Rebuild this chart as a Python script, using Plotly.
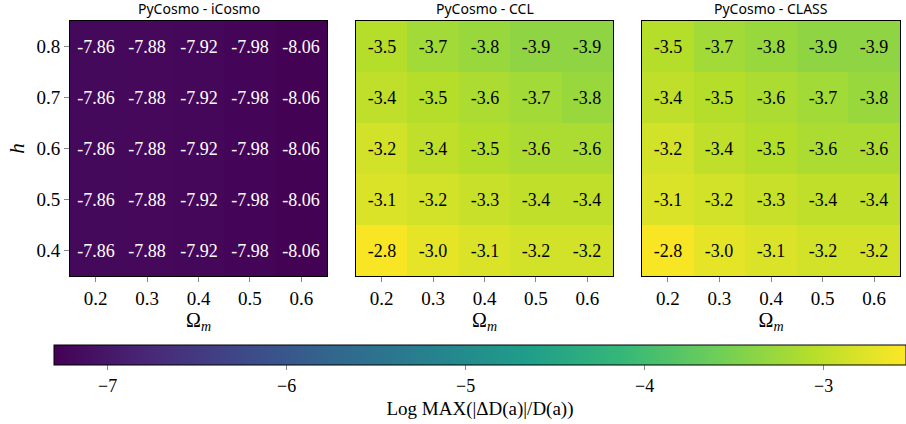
import plotly.graph_objects as go

omega_m = [0.2, 0.3, 0.4, 0.5, 0.6]
h_vals = [0.4, 0.5, 0.6, 0.7, 0.8]

icosmo = [
    [-7.86, -7.88, -7.92, -7.98, -8.06],
    [-7.86, -7.88, -7.92, -7.98, -8.06],
    [-7.86, -7.88, -7.92, -7.98, -8.06],
    [-7.86, -7.88, -7.92, -7.98, -8.06],
    [-7.86, -7.88, -7.92, -7.98, -8.06],
]
ccl = [
    [-2.8, -3.0, -3.1, -3.2, -3.2],
    [-3.1, -3.2, -3.3, -3.4, -3.4],
    [-3.2, -3.4, -3.5, -3.6, -3.6],
    [-3.4, -3.5, -3.6, -3.7, -3.8],
    [-3.5, -3.7, -3.8, -3.9, -3.9],
]
class_ = [
    [-2.8, -3.0, -3.1, -3.2, -3.2],
    [-3.1, -3.2, -3.3, -3.4, -3.4],
    [-3.2, -3.4, -3.5, -3.6, -3.6],
    [-3.4, -3.5, -3.6, -3.7, -3.8],
    [-3.5, -3.7, -3.8, -3.9, -3.9],
]
titles = ["PyCosmo - iCosmo", "PyCosmo - CCL", "PyCosmo - CLASS"]
cbar_ticks = [-7, -6, -5, -4, -3]

W, H = 906, 424
serif = "Liberation Serif"
ranges = [(-8.08, 2.0), (-9.5, -2.75), (-9.5, -2.75)]
cb_min, cb_max = -7.3, -2.54

fig = go.Figure()

xdoms = [(70 / W, 327 / W), (356 / W, 613 / W), (642 / W, 900 / W)]
ydom = (1 - 276 / H, 1 - 21 / H)

datasets = [(icosmo, "%{z:.2f}", "white"), (ccl, "%{z:.1f}", "black"), (class_, "%{z:.1f}", "black")]

for i, (z, fmt, tcol) in enumerate(datasets):
    sfx = "" if i == 0 else str(i + 1)
    fig.add_trace(go.Heatmap(
        x=omega_m, y=h_vals, z=z,
        colorscale="Viridis", zmin=ranges[i][0], zmax=ranges[i][1], showscale=False,
        texttemplate=fmt,
        textfont=dict(family=serif, size=18, color=tcol),
        xaxis="x" + sfx, yaxis="y" + sfx,
        hoverinfo="skip",
    ))

    xa = dict(
        domain=xdoms[i], anchor="y" + sfx, automargin=False,
        tickvals=omega_m, ticktext=[str(v) for v in omega_m],
        ticks="outside", ticklen=5, tickcolor="#888",
        tickfont=dict(family=serif, size=19, color="black"),
        showline=True, linecolor="black", linewidth=1, mirror=True,
        showgrid=False, zeroline=False,
        range=[0.15, 0.65],
        title=dict(text="\u03a9<sub><i>m</i></sub>", font=dict(family=serif, size=20, color="black"), standoff=2),
    )
    ya = dict(
        domain=ydom, anchor="x" + sfx, automargin=False,
        tickvals=h_vals,
        showline=True, linecolor="black", linewidth=1, mirror=True,
        showgrid=False, zeroline=False,
        range=[0.35, 0.85],
    )
    if i == 0:
        ya.update(ticks="outside", ticklen=5, tickcolor="#888",
                  ticktext=[str(v) for v in h_vals],
                  tickfont=dict(family=serif, size=19, color="black"),
                  title=dict(text="<i>h</i>", font=dict(family=serif, size=21, color="black"), standoff=6))
    else:
        ya.update(showticklabels=False, ticks="")
    fig.update_layout(**{"xaxis" + sfx: xa, "yaxis" + sfx: ya})

    fig.add_annotation(
        x=(xdoms[i][0] + xdoms[i][1]) / 2, y=1 - 21 / H,
        xref="paper", yref="paper", xanchor="center", yanchor="bottom",
        text=titles[i], showarrow=False, yshift=1,
        font=dict(family="Noto Sans", size=14, color="black"),
    )

# colorbar carrier (invisible)
fig.add_trace(go.Scatter(
    x=[None], y=[None], mode="markers", xaxis="x", yaxis="y",
    hoverinfo="skip", showlegend=False,
    marker=dict(
        color=[cb_min], colorscale="Viridis", cmin=cb_min, cmax=cb_max, showscale=True,
        colorbar=dict(
            orientation="h",
            x=54 / W, xanchor="left",
            y=1 - 345 / H, yanchor="top",
            len=(W - 54) / W, lenmode="fraction",
            thickness=20, thicknessmode="pixels",
            xpad=0, ypad=0,
            outlinewidth=1, outlinecolor="black",
            tickvals=cbar_ticks,
            ticktext=["\u2212" + str(abs(t)) for t in cbar_ticks],
            ticks="outside", ticklen=5, tickcolor="#888",
            tickfont=dict(family=serif, size=18, color="black"),
            title=dict(text="Log MAX(|\u0394D(a)|/D(a))", side="bottom",
                       font=dict(family=serif, size=19, color="black")),
        ),
    ),
))

fig.update_layout(
    width=W, height=H,
    margin=dict(l=0, r=0, t=0, b=0, autoexpand=False),
    paper_bgcolor="white", plot_bgcolor="white",
    font=dict(family=serif),
    showlegend=False,
)

fig.write_html("out.html", config={"displayModeBar": False},
               post_script="document.body.style.margin='0';document.body.style.overflow='hidden';")
